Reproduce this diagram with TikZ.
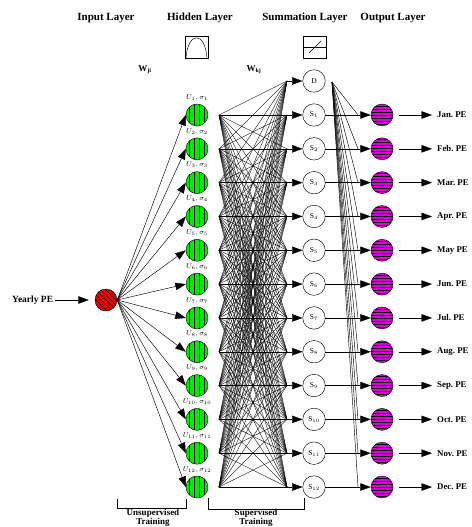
\documentclass[tikz,border=0pt]{standalone}
\usepackage{fontspec}
\setmainfont{Liberation Serif}
\usetikzlibrary{arrows.meta}
\definecolor{hgreen}{RGB}{0,235,0}
\definecolor{omag}{RGB}{215,0,215}
\definecolor{ired}{RGB}{235,0,0}
\tikzset{
  arr/.style={-{Triangle[length=10.5pt,width=7.5pt]}},
  thinl/.style={line width=0.45pt},
  hid/.style={circle, draw, fill=hgreen, minimum size=22pt, inner sep=0pt,
    path picture={\foreach \i in {-7.5,-2.5,2.5,7.5}
      \draw[line width=0.6pt] ([xshift=\i pt,yshift=-12pt]path picture bounding box.center) -- ++(0,24pt);}},
  outn/.style={circle, draw, fill=omag, minimum size=22pt, inner sep=0pt,
    path picture={\foreach \i in {-9,-6,-3,0,3,6,9}
      \draw[line width=0.8pt] ([yshift=\i pt,xshift=-12pt]path picture bounding box.center) -- ++(24pt,0);}},
  inn/.style={circle, draw, fill=ired, minimum size=22pt, inner sep=0pt,
    path picture={\foreach \i in {-20,-15,...,20}
      \draw[line width=0.6pt] ([xshift=\i pt-12pt,yshift=12pt]path picture bounding box.center) -- ++(24pt,-24pt);}},
  sumn/.style={circle, draw, line width=0.45pt, minimum size=22.5pt, inner sep=0pt, font=\fontsize{7.5}{8}\selectfont},
  head/.style={font=\fontsize{11}{12}\selectfont\bfseries},
  lab/.style={font=\fontsize{9.5}{11}\selectfont\bfseries, anchor=west, inner sep=0pt},
  olab/.style={font=\fontsize{8.8}{10}\selectfont\bfseries, anchor=west, inner sep=0pt},
  ulab/.style={font=\fontsize{7}{8}\selectfont, inner sep=0pt},
  brk/.style={line width=0.5pt},
  btext/.style={font=\fontsize{9}{8.8}\selectfont\bfseries, align=center, anchor=north, inner sep=0pt},
}
\begin{document}
\begin{tikzpicture}[x=1pt,y=-1pt]
\useasboundingbox (0,0) rectangle (471,527);
% headers
\node[head] (hin) at (106,18) {Input Layer};
\node[head] (hhid) at (200,18) {Hidden Layer};
\node[head] (hsum) at (305,18) {Summation Layer};
\node[head] (hout) at (393,18) {Output Layer};
% icons
\draw[thinl] (185,36) rectangle (208,58);
\draw[thinl] (186,58) .. controls (188,31) and (205,31) .. (207,58);
\draw[thinl] (303,36) rectangle (326,58);
\draw[thinl] (303,47) -- (326,47);
\draw[thinl] (309,53) -- (321,41);
% weights
\node[font=\fontsize{9}{10}\selectfont\bfseries] (wji) at (145,70) {W\textsubscript{ji}};
\node[font=\fontsize{9}{10}\selectfont\bfseries] (wkj) at (254,70) {W\textsubscript{kj}};
% input
\node[inn] (in) at (106,300) {};
\node[lab] (yl) at (12,300) {Yearly PE};
\draw[thinl,arr] (yl.east) ++(2,0) coordinate (yle) -- ([xshift=-6pt]in.west);
% summation D
\node[sumn] (s0) at (314,81) {D};
\coordinate (sa0) at (287,81);
\coordinate (dsrc) at (332,82);
\draw[thinl,arr] (sa0) -- (s0.west);
% rows
\foreach \k/\m in {1/Jan.,2/Feb.,3/Mar.,4/Apr.,5/May,6/Jun.,7/Jul.,8/Aug.,9/Sep.,10/Oct.,11/Nov.,12/Dec.}{
  \pgfmathsetmacro{\yy}{115+(\k-1)*33.82}
  \node[hid] (h\k) at (197,\yy) {};
  \node[ulab] (u\k) at (197,\yy-17.5) {$U_{\k},\sigma_{\k}$};
  \coordinate (hs\k) at (219,\yy);
  \coordinate (sa\k) at (287,\yy);
  \node[sumn] (s\k) at (314,\yy) {S$_{\k}$};
  \node[outn] (o\k) at (382,\yy) {};
  \coordinate (db\k) at (358,\yy);
  \coordinate (oa\k) at (399,\yy);
  \node[olab] (ol\k) at (437,\yy) {\m\ PE};
  \draw[thinl,arr] (in.east) -- (h\k.west);
  \draw[thinl,arr] (sa\k) -- (s\k.west);
  \draw[thinl,arr] (s\k.east) -- (o\k.west);
  \draw[thinl] (dsrc) -- (db\k);
  \draw[thinl,arr] (oa\k) -- ([xshift=-5pt]ol\k.west);
}
\foreach \k in {1,...,12}{
  \foreach \j in {0,...,12}{
    \draw[line width=0.35pt] (hs\k) -- (sa\j);
  }
}
% brackets
\draw[brk] (117,499) -- (117,508) -- (186,508) -- (186,499);
\draw[brk] (208,498) -- (208,509) -- (304,509) -- (304,498);
\node[btext] (tu) at (153,509.5) {Unsupervised\\Training};
\node[btext] (ts) at (256,509.5) {Supervised\\Training};
\end{tikzpicture}
\end{document}
